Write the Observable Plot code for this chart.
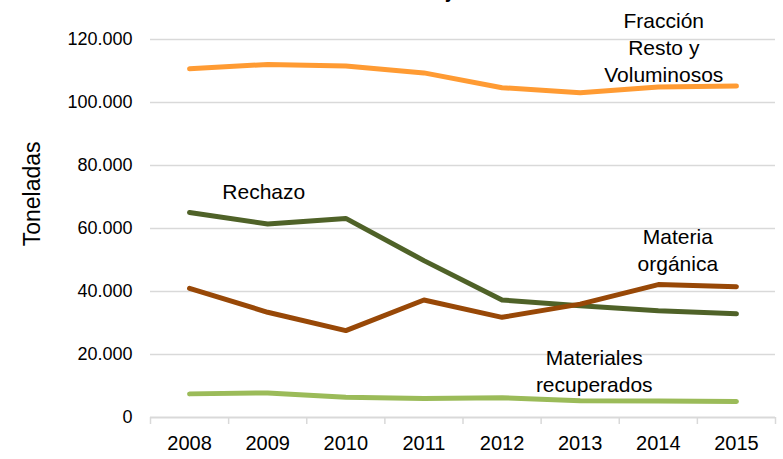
<!DOCTYPE html>
<html>
<head>
<meta charset="utf-8">
<script src="https://cdn.jsdelivr.net/npm/d3@7"></script>
<script src="https://cdn.jsdelivr.net/npm/@observablehq/plot@0.6"></script>
<style>
  html, body { margin: 0; padding: 0; background: #fff; overflow: hidden; }
</style>
</head>
<body>
<div id="chart"></div>
<script>
// ---- Data ----
const years = [2008, 2009, 2010, 2011, 2012, 2013, 2014, 2015];
const resto       = [110700, 112100, 111600, 109400, 104700, 103100, 104900, 105200];
const rechazo     = [65100, 61400, 63200, 49800, 37300, 35500, 33900, 32900];
const organica    = [41000, 33400, 27600, 37300, 31800, 36000, 42200, 41500];
const recuperados = [7500, 7800, 6400, 6000, 6300, 5300, 5200, 5100];
const seriesNames = ["Fracción Resto y Voluminosos", "Rechazo", "Materia orgánica", "Materiales recuperados"];
const seriesValues = [resto, rechazo, organica, recuperados];
const seriesColors = ["#FF9B33", "#4F6228", "#984807", "#9BBB59"];
const yTicks = [0, 20000, 40000, 60000, 80000, 100000, 120000];
const labelTexts = ["Fracción\nResto y\nVoluminosos", "Rechazo", "Materia\norgánica", "Materiales\nrecuperados"];

// ---- Chart ----
const rows = seriesNames.flatMap((s, i) => years.map((yr, j) => ({series: s, year: yr, value: seriesValues[i][j]})));
const boundaries = [...years.map(y => y - 0.5), years[years.length - 1] + 0.5];
const locale = d3.formatLocale({decimal: ",", thousands: ".", grouping: [3], currency: ["", "€"]});
const fmt = locale.format(",d");

// label anchor points (data coordinates)
const labels = [
  {text: labelTexts[0], x: 2014.07, y: 117900},
  {text: labelTexts[1], x: 2008.95, y: 72000},
  {text: labelTexts[2], x: 2014.25, y: 53600},
  {text: labelTexts[3], x: 2013.18, y: 15200}
];

const chart = Plot.plot({
  width: 783,
  height: 459,
  marginLeft: 150,
  marginRight: 8,
  marginTop: 39,
  marginBottom: 42,
  style: {fontFamily: "'Liberation Sans', Arial, sans-serif", background: "#fff", color: "#000"},
  x: {domain: [boundaries[0], boundaries[boundaries.length - 1]], axis: null},
  y: {domain: [0, 120000], axis: null},
  color: {domain: seriesNames, range: seriesColors},
  marks: [
    Plot.ruleY(yTicks.filter(d => d > 0), {stroke: "#d9d9d9", strokeWidth: 1.5}),
    Plot.ruleY([0], {stroke: "#d9d9d9", strokeWidth: 2}),
    Plot.axisX(boundaries, {tickSize: 7, tickFormat: () => "", stroke: "#d9d9d9", strokeWidth: 1.5, strokeOpacity: 1}),
    Plot.axisX(years, {tickSize: 0, tickPadding: 18, fontSize: 20, tickFormat: d => String(d), label: null, fill: "#000"}),
    Plot.axisY(yTicks, {tickSize: 0, tickPadding: 18, fontSize: 18, tickFormat: fmt, label: null, fill: "#000"}),
    Plot.text(["Toneladas"], {frameAnchor: "left", y: [71000], dx: -118, rotate: -90, textAnchor: "middle", fontSize: 23, fill: "#000"}),
    Plot.text(["La Rioja"], {x: [2011.5], frameAnchor: "top", textAnchor: "end", lineAnchor: "bottom", dy: -42, fontSize: 20, fontWeight: "bold", fill: "#000"}),
    Plot.line(rows, {x: "year", y: "value", z: "series", stroke: "series", strokeWidth: 5, strokeLinecap: "round", strokeLinejoin: "round"}),
    Plot.text(labels, {x: "x", y: "y", text: "text", fill: "#000", fontSize: 21, lineHeight: 1.3, textAnchor: "middle", lineAnchor: "middle"})
  ]
});
document.getElementById("chart").appendChild(chart);
</script>
</body>
</html>
